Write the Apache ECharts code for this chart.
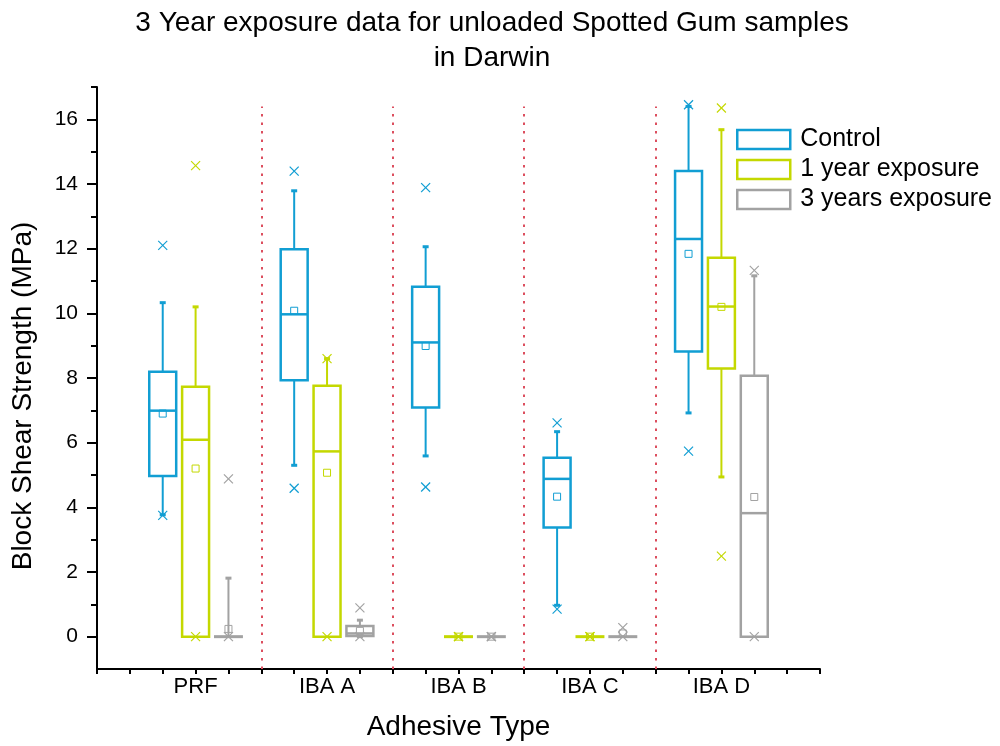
<!DOCTYPE html>
<html>
<head>
<meta charset="utf-8">
<script src="https://cdn.jsdelivr.net/npm/echarts@6/dist/echarts.min.js"></script>
<style>html,body{margin:0;padding:0;background:#fff}#c{width:1000px;height:746px}</style>
</head>
<body>
<div id="c"></div>
<script>
// ---- data ----
const categories = ['PRF', 'IBA A', 'IBA B', 'IBA C', 'IBA D'];
const seriesNames = ['Control', '1 year exposure', '3 years exposure'];
// box rows: [whiskerLow, Q1, median, Q3, whiskerHigh]
const controlBox = [[3.77, 4.97, 6.99, 8.19, 10.33], [5.30, 7.93, 9.97, 11.98, 13.79], [5.59, 7.09, 9.10, 10.82, 12.06], [0.97, 3.38, 4.88, 5.53, 6.34], [6.92, 8.82, 12.30, 14.40, 16.40]];
const controlMean = [6.90, 10.08, 8.99, 4.33, 11.84];
const controlMarks = [[3.75, 12.10], [4.59, 14.40], [4.63, 13.89], [0.85, 6.61], [5.74, 16.45]];
const year1Box = [[0, 0, 6.09, 7.73, 10.20], [0, 0, 5.73, 7.76, 8.60], [0, 0, 0, 0, 0], [0, 0, 0, 0, 0], [4.94, 8.29, 10.21, 11.72, 15.68]];
const year1Mean = [5.20, 5.07, 0, 0, 10.20];
const year1Marks = [[0, 14.57], [0, 8.60], [0, 0], [0, 0], [2.49, 16.35]];
const year3Box = [[0, 0, 0, 0, 1.81], [0, 0.02, 0.10, 0.33, 0.51], [0, 0, 0, 0, 0], [0, 0, 0, 0, 0], [0, 0, 3.82, 8.07, 11.16]];
const year3Mean = [0.24, 0.18, 0, 0.10, 4.32];
const year3Marks = [[0, 4.88], [0, 0.89], [0, 0], [0, 0.28], [0, 11.33]];
const yMajorTicks = [0, 2, 4, 6, 8, 10, 12, 14, 16];
const yMinorTicks = [1, 3, 5, 7, 9, 11, 13, 15, 17];
const separators = [5, 9, 13, 17];

const colors = ['#119ed3', '#c4d800', '#a2a2a2'];
const FONT = '"Liberation Sans", Arial, sans-serif';

const groupCenter = i => 3 + 4 * i;
const offsets = [-1, 0, 1];

function buildData(box, mean, marks, k) {
  return box.map((b, i) => [groupCenter(i) + offsets[k], b[0], b[1], b[2], b[3], b[4], mean[i], marks[i][0], marks[i][1]]);
}

function renderItem(params, api) {
  const color = colors[params.seriesIndex];
  const x = api.value(0);
  const hw = api.size([0.41, 0])[0];
  const p = v => api.coord([x, v]);
  const wl = p(api.value(1)), q1 = p(api.value(2)), md = p(api.value(3)), q3 = p(api.value(4)), wh = p(api.value(5));
  const mn = p(api.value(6)), mlo = p(api.value(7)), mhi = p(api.value(8));
  const cx = wl[0];
  const st = { stroke: color, lineWidth: 2, fill: null };
  const ch = [];
  if (wh[1] < q3[1] - 0.5) {
    ch.push({ type: 'line', shape: { x1: cx, y1: q3[1], x2: cx, y2: wh[1] }, style: st });
    ch.push({ type: 'line', shape: { x1: cx - 3, y1: wh[1], x2: cx + 3, y2: wh[1] }, style: { stroke: color, lineWidth: 3 } });
  }
  if (wl[1] > q1[1] + 0.5) {
    ch.push({ type: 'line', shape: { x1: cx, y1: q1[1], x2: cx, y2: wl[1] }, style: st });
    ch.push({ type: 'line', shape: { x1: cx - 3, y1: wl[1], x2: cx + 3, y2: wl[1] }, style: { stroke: color, lineWidth: 3 } });
  }
  const h = q1[1] - q3[1];
  if (h > 0.5) {
    ch.push({ type: 'rect', shape: { x: cx - hw, y: q3[1], width: 2 * hw, height: h }, style: { stroke: color, lineWidth: 2.5, fill: '#fff' } });
    ch.push({ type: 'line', shape: { x1: cx - hw, y1: md[1], x2: cx + hw, y2: md[1] }, style: { stroke: color, lineWidth: 2.5 } });
  } else {
    ch.push({ type: 'line', shape: { x1: cx - hw - 1, y1: md[1], x2: cx + hw + 1, y2: md[1] }, style: { stroke: color, lineWidth: 3 } });
  }
  ch.push({ type: 'rect', shape: { x: mn[0] - 3.5, y: mn[1] - 3.5, width: 7, height: 7 }, style: { stroke: color, lineWidth: 1, fill: null } });
  [mlo, mhi].forEach(m => {
    const s = 4.5;
    ch.push({ type: 'line', shape: { x1: m[0] - s, y1: m[1] - s, x2: m[0] + s, y2: m[1] + s }, style: { stroke: color, lineWidth: 1.2 } });
    ch.push({ type: 'line', shape: { x1: m[0] - s, y1: m[1] + s, x2: m[0] + s, y2: m[1] - s }, style: { stroke: color, lineWidth: 1.2 } });
  });
  return { type: 'group', children: ch };
}

const allData = [
  buildData(controlBox, controlMean, controlMarks, 0),
  buildData(year1Box, year1Mean, year1Marks, 1),
  buildData(year3Box, year3Mean, year3Marks, 2)
];

const chart = echarts.init(document.getElementById('c'), null, { renderer: 'canvas' });

const series = allData.map((d, k) => ({
  name: seriesNames[k],
  type: 'custom',
  renderItem: renderItem,
  data: d,
  encode: { x: 0, y: [1, 2, 3, 4, 5, 6, 7, 8] },
  itemStyle: { color: colors[k] },
  z: 3
}));

series.push({
  type: 'line',
  data: [],
  silent: true,
  markLine: {
    silent: true,
    symbol: ['none', 'none'],
    label: { show: false },
    lineStyle: { color: '#dc4e5e', width: 2, type: [2.5, 6] },
    data: separators.map(s => [{ coord: [s, -1] }, { coord: [s, 16.4] }])
  },
  z: 1
});

chart.setOption({
  animation: false,
  backgroundColor: '#fff',
  title: {
    text: '3 Year exposure data for unloaded Spotted Gum samples\nin Darwin',
    left: 487,
    top: 1,
    textAlign: 'center',
    textStyle: { fontFamily: FONT, fontSize: 28, fontWeight: 'normal', color: '#000', lineHeight: 35 }
  },
  legend: {
    orient: 'vertical',
    left: 736,
    top: 127,
    padding: 0,
    itemWidth: 53,
    itemHeight: 19,
    itemGap: 5,
    textStyle: { fontFamily: FONT, fontSize: 25, color: '#000', lineHeight: 21, padding: [0, 0, 0, 5] },
    data: seriesNames.map((n, k) => ({
      name: n,
      icon: 'rect',
      itemStyle: { color: '#fff', borderColor: colors[k], borderWidth: 2.5 }
    }))
  },
  grid: { left: 97, right: 180, top: 87, bottom: 72, containLabel: false },
  xAxis: {
    type: 'value',
    min: 0,
    max: 22,
    interval: 1,
    name: 'Adhesive Type',
    nameLocation: 'middle',
    nameGap: 44,
    nameTextStyle: { fontFamily: FONT, fontSize: 28, color: '#000' },
    axisLine: { show: true, onZero: false, lineStyle: { color: '#000', width: 2 } },
    axisTick: { show: true, length: 5, lineStyle: { color: '#000', width: 2 } },
    axisLabel: {
      fontFamily: FONT, fontSize: 22, color: '#000', margin: 7,
      formatter: v => { const i = (v - 3) / 4; return (Number.isInteger(i) && i >= 0 && i < categories.length) ? categories[i] : ''; }
    },
    splitLine: { show: false }
  },
  yAxis: [{
    type: 'value',
    min: -1,
    max: 17,
    name: 'Block Shear Strength (MPa)',
    nameLocation: 'middle',
    nameGap: 60,
    nameTextStyle: { fontFamily: FONT, fontSize: 28, color: '#000', padding: [0, 36, 0, 0] },
    axisLine: { show: true, onZero: false, lineStyle: { color: '#000', width: 2 } },
    axisTick: { show: true, length: 10, customValues: yMajorTicks, lineStyle: { color: '#000', width: 2 } },
    axisLabel: { fontFamily: FONT, fontSize: 21, color: '#000', margin: 19, customValues: yMajorTicks },
    splitLine: { show: false }
  }, {
    type: 'value',
    min: -1,
    max: 17,
    position: 'left',
    offset: 0,
    axisLine: { show: false },
    axisTick: { show: true, length: 6, customValues: yMinorTicks, lineStyle: { color: '#000', width: 2 } },
    axisLabel: { show: false },
    splitLine: { show: false }
  }],
  series: series
});
</script>
</body>
</html>
